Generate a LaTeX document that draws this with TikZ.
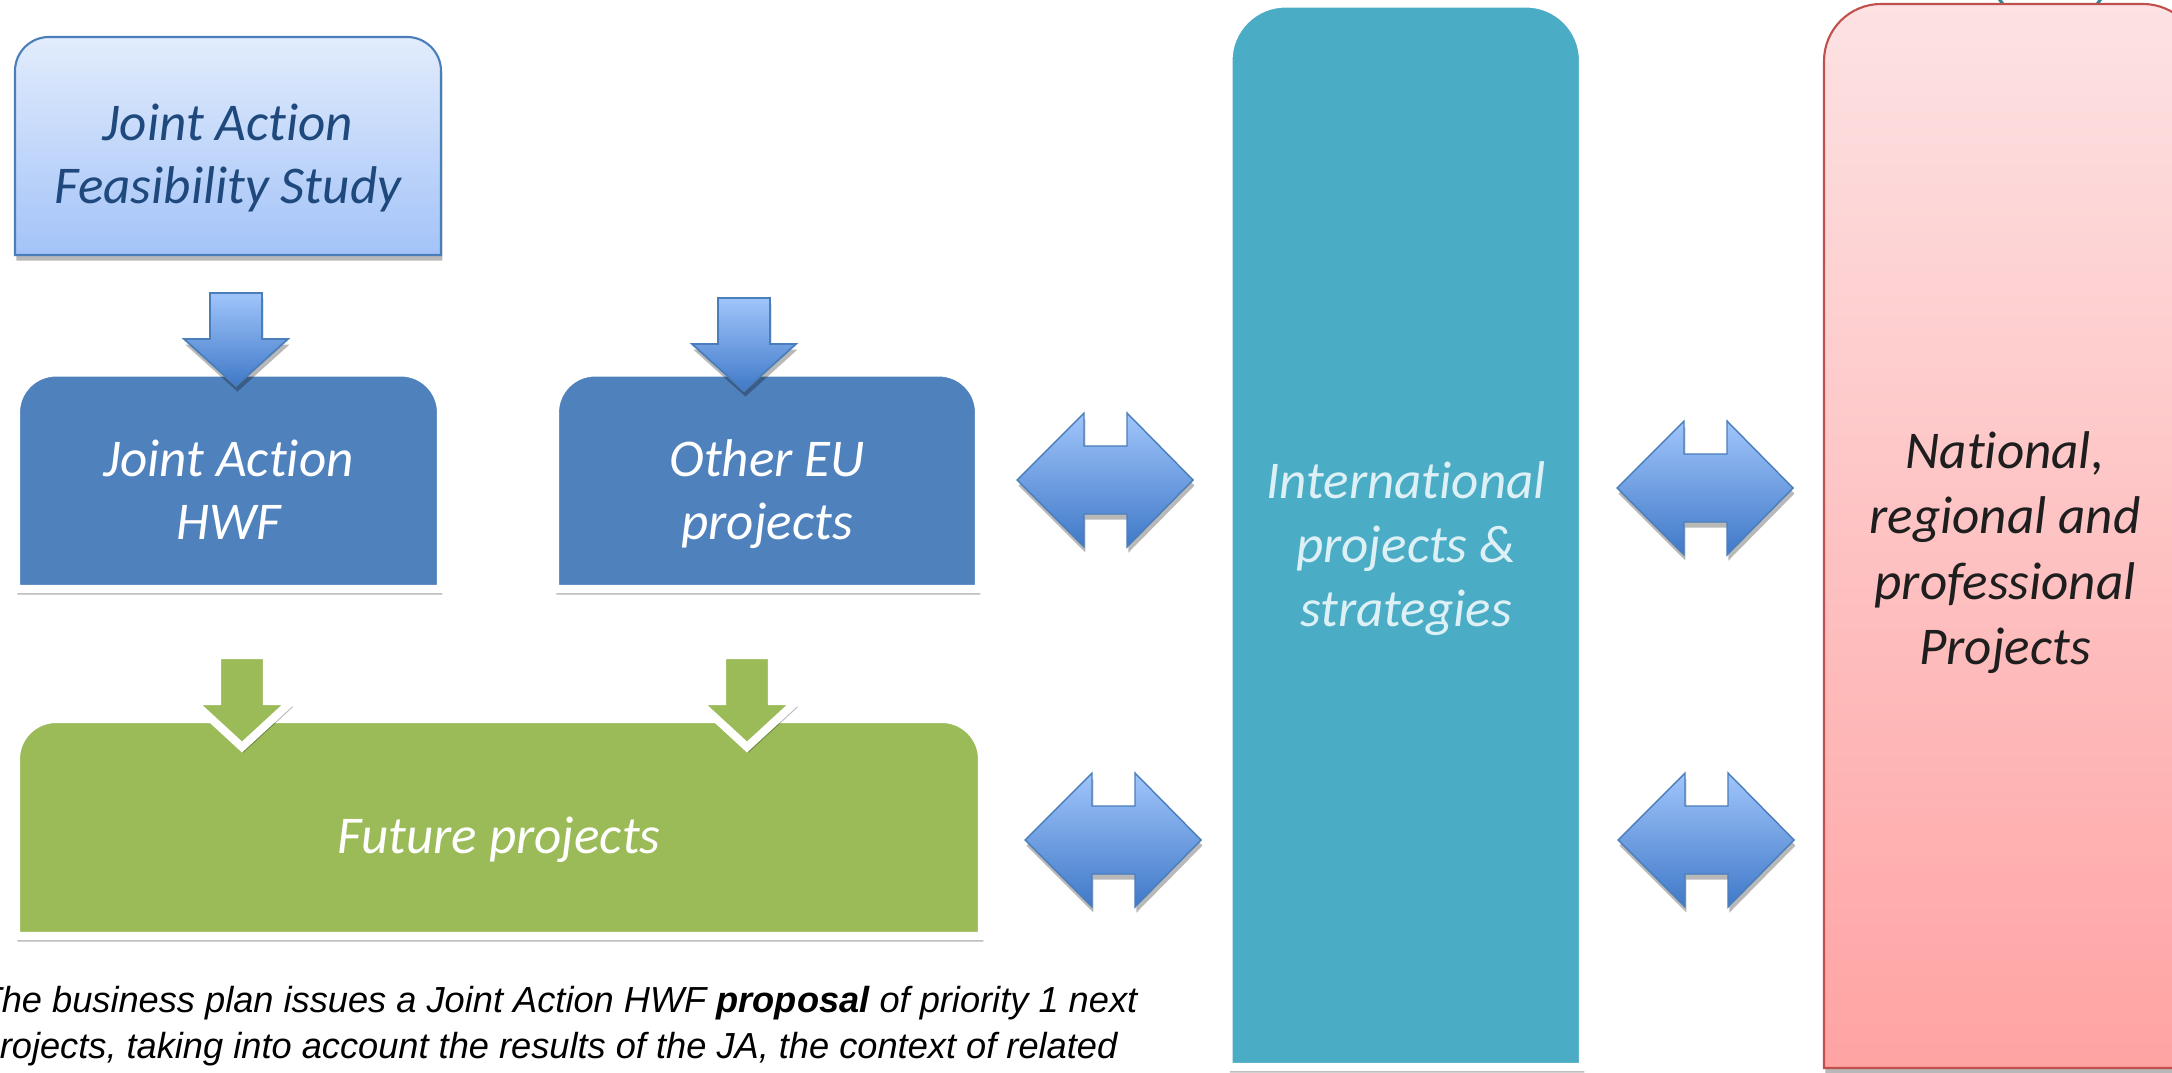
\documentclass[tikz,border=0pt]{standalone}
\usepackage{fontspec}
\setmainfont{Carlito}[Ligatures=NoCommon]
\newfontfamily\arialf{Liberation Sans}
\usetikzlibrary{shadows}
\definecolor{fsTop}{HTML}{E2ECFC}
\definecolor{fsBot}{HTML}{A3C3F8}
\definecolor{fsLine}{HTML}{4A7EBB}
\definecolor{fsText}{HTML}{1F497D}
\definecolor{darkBox}{HTML}{4F81BD}
\definecolor{greenBox}{HTML}{9BBB59}
\definecolor{tealBox}{HTML}{4BACC6}
\definecolor{tealText}{HTML}{DDF0F5}
\definecolor{redTop}{HTML}{FDE2E3}
\definecolor{redBot}{HTML}{FFA3A3}
\definecolor{redLine}{HTML}{C0504D}
\definecolor{redText}{HTML}{1E1E1E}
\definecolor{arrTop}{HTML}{A0C5FB}
\definecolor{arrBot}{HTML}{4079C8}
\definecolor{arrLine}{HTML}{4A7EBB}
\definecolor{fragTeal}{HTML}{31859C}
\newcommand\bst{\rule[-0.25em]{0pt}{0.95em}}
% top-rounded box: options, x1, ybottom, x2, ytop, r
\newcommand\toprounded[6]{%
  \path[#1] (#2,#3) -- (#2,#5-#6) arc[start angle=180,end angle=90,radius=#6]
    -- (#4-#6,#5) arc[start angle=90,end angle=0,radius=#6] -- (#4,#3) -- cycle;}
% double block arrow: left tip x, centre y
\newcommand\dblarrow[2]{%
  \path[dblarr] (#1,#2) -- ++(67,67) -- ++(0,-33) -- ++(43,0) -- ++(0,33)
    -- ++(66,-67) -- ++(-66,-67) -- ++(0,33) -- ++(-43,0) -- ++(0,-33) -- cycle;}
% blue down arrow: centre x, top y
\newcommand\bluedown[2]{%
  \path[bluearr] (#1-26,#2) -- (#1+26,#2) -- (#1+26,#2-46) -- (#1+52,#2-46)
    -- (#1,#2-93) -- (#1-52,#2-46) -- (#1-26,#2-46) -- cycle;}
% green down arrow with white outline: centre x, top y
\newcommand\greendown[2]{%
  \path[greenarr] (#1-25,#2) -- (#1+25,#2) -- (#1+25,#2-46) -- (#1+50,#2-46)
    -- (#1,#2-92) -- (#1-50,#2-46) -- (#1-25,#2-46) -- cycle;}
\tikzset{
  sh/.style={drop shadow={shadow xshift=0.4pt, shadow yshift=-1.6pt, opacity=0.28, fill=black}},
  boxtext/.style={font=\fontsize{15.1pt}{17.9pt}\selectfont\itshape, align=center, inner sep=0pt},
  dblarr/.style={sh, top color=arrTop, bottom color=arrBot, draw=arrLine, line width=0.4pt, line join=miter},
  bluearr/.style={sh, top color=arrTop, bottom color=arrBot, draw=arrLine, line width=0.5pt, line join=miter},
  greenarr/.style={sh, fill=greenBox, draw=white, line width=2.3pt, line join=miter},
  whitebox/.style={sh, draw=white, line width=2.3pt},
}
\begin{document}
\begin{tikzpicture}[x=0.01cm,y=0.01cm]
\fill[white] (0,0) rectangle (2172,1072);
\useasboundingbox (0,0) rectangle (2172,1072);

% fragment of a cut-off shape above the red box
\draw[fragTeal, line width=0.9pt] (2050,1105) circle[radius=60];

% big columns
\toprounded{whitebox, fill=tealBox}{1228.5}{5}{1583}{1068.5}{57}
\toprounded{sh, top color=redTop, bottom color=redBot, draw=redLine, line width=0.6pt}{1824}{4}{2200}{1068}{57}

% feasibility study box
\toprounded{sh, top color=fsTop, bottom color=fsBot, draw=fsLine, line width=0.6pt}{15}{817}{441}{1035}{34}

% dark blue boxes
\toprounded{whitebox, fill=darkBox}{16}{483}{441}{699.5}{40}
\toprounded{whitebox, fill=darkBox}{555}{483}{979}{699.5}{40}

% green box
\toprounded{whitebox, fill=greenBox}{16}{136}{982}{353}{40}

% arrows
\bluedown{236}{779}
\bluedown{744}{774}
\greendown{242}{417}
\greendown{747}{417}
\dblarrow{1017}{592}
\dblarrow{1617}{584}
\dblarrow{1025}{232}
\dblarrow{1618}{232}

% texts
\node[boxtext, text=fsText] (fs) at (228,911.5) {\bst Joint Action\\\bst Feasibility Study};
\node[boxtext, text=white] (ja) at (228.5,576) {\bst Joint Action\\\bst HWF};
\node[boxtext, text=white] (eu) at (767,576) {\bst Other EU\\\bst projects};
\node[boxtext, text=white] (fut) at (499,230) {\bst Future projects};
\node[boxtext, text=tealText, font=\fontsize{15.1pt}{18.2pt}\selectfont\itshape] (int) at (1406,521) {\bst International\\\bst projects \&\\\bst strategies};
\node[boxtext, text=redText, font=\fontsize{15.1pt}{18.6pt}\selectfont\itshape] (nat) at (2005,517.5) {\bst National,\\\bst regional and\\\bst professional\\\bst Projects};
\node[anchor=north west, inner sep=0pt, align=left, font=\arialf\itshape\fontsize{10.3pt}{13.1pt}\selectfont] (note) at (-21,92.8)
  {\rule{0pt}{0.9em}The business plan issues a Joint Action HWF \textbf{proposal} of priority 1 next\\projects, taking into account the results of the JA, the context of related};
\end{tikzpicture}
\end{document}
